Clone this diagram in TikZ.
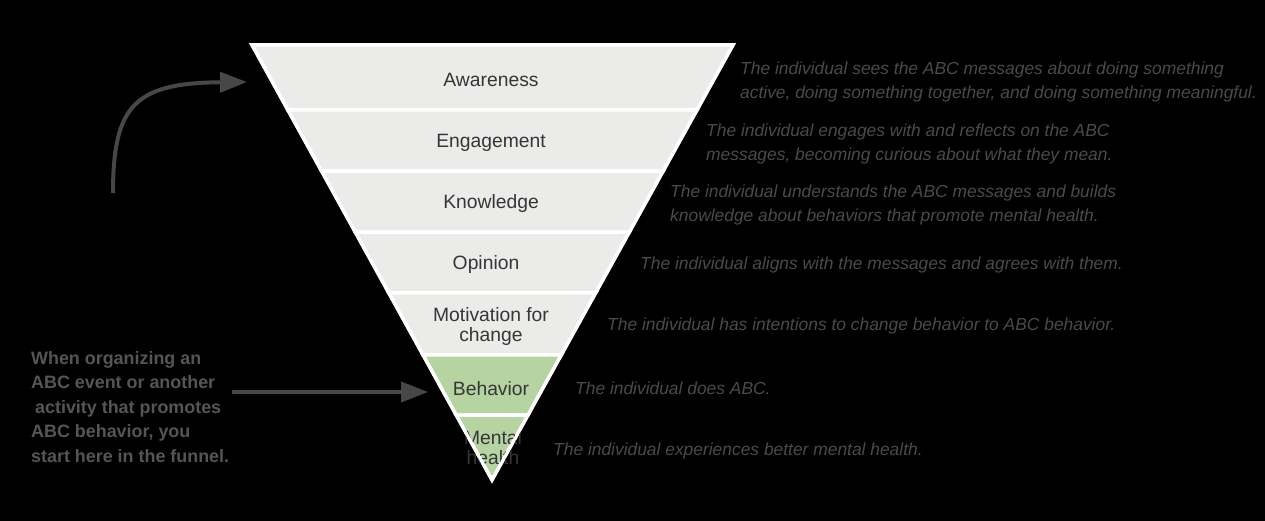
\documentclass[tikz,border=0pt]{standalone}
\usepackage{fontspec}
\setmainfont{Liberation Sans}
\usetikzlibrary{positioning,arrows.meta,calc}
\definecolor{bandgray}{HTML}{EBEBEA}
\definecolor{bandgreen}{HTML}{B6D4A2}
\definecolor{labelgray}{HTML}{363636}
\definecolor{notegray}{HTML}{4A4A4A}
\definecolor{hintgray}{HTML}{555555}
\definecolor{arrowgray}{HTML}{474747}
\tikzset{
    x=1pt,
    y=-1pt,
    band/.style = {
        fill=bandgray,
        draw=white,
        line width=3.5pt
    },
    goal/.style = {
        band,
        fill=bandgreen
    },
    stage/.style = {
        text=labelgray,
        font=\fontsize{19.3}{20}\selectfont,
        align=center,
        inner sep=0pt
    },
    note/.style = {
        anchor=west,
        text=notegray,
        font=\fontsize{17.4}{24}\selectfont\itshape,
        align=left,
        inner sep=0pt
    },
    hint/.style = {
        anchor=west,
        text=hintgray,
        font=\fontsize{17.9}{24.5}\selectfont\bfseries,
        align=left,
        inner sep=0pt
    },
    pointer/.style = {
        draw=arrowgray,
        line width=4pt,
        -{Triangle[length=27pt,width=20pt]}
    },
}

\begin{document}
\begin{tikzpicture}
            \useasboundingbox[fill=black] (0,0) rectangle (1265,521);

            \coordinate (tl) at (252,45);
            \coordinate (tr) at (733,45);
            \coordinate (tip) at (492,480);

            \foreach \a/\b/\kind in {0/0.1494/band, 0.1494/0.2897/band,
                0.2897/0.4299/band, 0.4299/0.5701/band, 0.5701/0.7126/band,
                0.7126/0.8506/goal, 0.8506/1/goal}
                \path[\kind] ($(tl)!\a!(tip)$) -- ($(tr)!\a!(tip)$) --
                ($(tr)!\b!(tip)$) -- ($(tl)!\b!(tip)$) -- cycle;

            \node[stage] (aware) at (491,80) {Awareness};
            \node[stage] (engage) at (491,143) {Engagement};
            \node[stage] (know) at (491,204) {Knowledge};
            \node[stage] (opin) at (486,265) {Opinion};
            \node[stage] (motiv) at (491,327) {Motivation for\\change};
            \node[stage] (behav) at (491,389) {Behavior};
            \node[stage] (health) at (493,448) {Mental\\health};

            \node[note] (n1) at (740,82) {The individual sees the ABC messages about doing something\\active, doing something together, and doing something meaningful.};
            \node[note] (n2) at (706,144) {The individual engages with and reflects on the ABC\\messages, becoming curious about what they mean.};
            \node[note] (n3) at (670,205) {The individual understands the ABC messages and builds\\knowledge about behaviors that promote mental health.};
            \node[note] (n4) at (640,265) {The individual aligns with the messages and agrees with them.};
            \node[note] (n5) at (607,326) {The individual has intentions to change behavior to ABC behavior.};
            \node[note] (n6) at (575,388) {The individual does ABC.};
            \node[note] (n7) at (553,451) {The individual experiences better mental health.};

            \node[hint] (hint) at (31,407) {When organizing an\\ABC event or another\\\hspace{4pt}activity that promotes\\ABC behavior, you\\start here in the funnel.};

            \coordinate (rise) at (113,193);
            \coordinate (top) at (247,82);
            \coordinate (entry) at (428,392);

            \path[pointer] (rise) .. controls (113,105) and (135,83) .. (top);
            \path[pointer] ([xshift=3pt]hint.east |- entry) -- (entry);

            \draw[white, line width=3pt] (tl) -- (tr) -- (tip) -- cycle;
\end{tikzpicture}
\end{document}
